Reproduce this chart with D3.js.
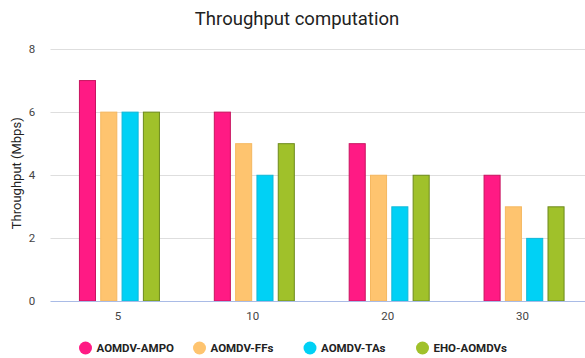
<!DOCTYPE html>
<html>
<head>
<meta charset="utf-8">
<script src="https://cdn.jsdelivr.net/npm/d3@7"></script>
<style>
  html, body { margin: 0; padding: 0; background: #fff; }
  svg { display: block; font-family: Roboto, "Noto Sans", sans-serif; }
</style>
</head>
<body>
<svg id="chart" width="585" height="358"></svg>
<script>
const categories = ["5", "10", "20", "30"];
const seriesNames = ["AOMDV-AMPO", "AOMDV-FFs", "AOMDV-TAs", "EHO-AOMDVs"];
const seriesValues = [
  [7, 6, 5, 4],
  [6, 5, 4, 3],
  [6, 4, 3, 2],
  [6, 5, 4, 3]
];
const yTicks = [0, 2, 4, 6, 8];
const fills = ["#ff1a84", "#fec46f", "#00d1f5", "#a0c12a"];
const strokes = ["#c8145f", "#f5b860", "#10b8d8", "#6d8a1c"];

const svg = d3.select("#chart");
const margin = { left: 50.5, right: -5, top: 48.5, bottom: 57 };
const W = 585, H = 358;

const x = d3.scaleBand().domain(categories).range([margin.left, W - margin.right]);
const y = d3.scaleLinear().domain([0, 8]).range([H - margin.bottom, margin.top]);
const inner = d3.scaleBand().domain(d3.range(seriesNames.length))
  .range([0, 81]).paddingInner(0.2);

// title
svg.append("text")
  .attr("x", 297).attr("y", 25)
  .attr("text-anchor", "middle")
  .attr("font-size", 18.5).attr("fill", "#222")
  .text("Throughput computation");

// gridlines
svg.append("g").selectAll("line").data(yTicks.filter(d => d > 0)).join("line")
  .attr("x1", margin.left).attr("x2", W)
  .attr("y1", d => Math.round(y(d)) + 0.5).attr("y2", d => Math.round(y(d)) + 0.5)
  .attr("stroke", "#dedede").attr("stroke-width", 1.2);

// y tick labels
svg.append("g").selectAll("text").data(yTicks).join("text")
  .attr("x", 32).attr("y", d => y(d) + 4)
  .attr("text-anchor", "middle")
  .attr("font-size", 11.5).attr("fill", "#444")
  .text(d => d);

// y axis title
svg.append("text")
  .attr("transform", `translate(21,${(y(0) + y(8)) / 2 - 1.5}) rotate(-90)`)
  .attr("text-anchor", "middle")
  .attr("font-size", 13).attr("fill", "#222")
  .text("Throughput (Mbps)");

// bars
const groups = svg.append("g").selectAll("g").data(categories).join("g")
  .attr("transform", c => `translate(${x(c) + x.bandwidth() / 2 - 39},0)`);
groups.selectAll("rect").data((c, ci) => seriesValues.map((vals, si) => ({ si, v: vals[ci] })))
  .join("rect")
  .attr("x", d => inner(d.si) + 0.5)
  .attr("y", d => y(d.v) + 0.5)
  .attr("width", inner.bandwidth() - 1)
  .attr("height", d => y(0) - y(d.v) - 0.5)
  .attr("fill", d => fills[d.si])
  .attr("stroke", d => strokes[d.si])
  .attr("stroke-width", 1);

// baseline
svg.append("line")
  .attr("x1", margin.left).attr("x2", W)
  .attr("y1", Math.round(y(0)) + 0.5).attr("y2", Math.round(y(0)) + 0.5)
  .attr("stroke", "#a9bbe6").attr("stroke-width", 1.2);

// x tick labels
svg.append("g").selectAll("text").data(categories).join("text")
  .attr("x", c => x(c) + x.bandwidth() / 2)
  .attr("y", 320)
  .attr("text-anchor", "middle")
  .attr("font-size", 11.5).attr("fill", "#444")
  .text(c => c);

// legend
const legendX = [85.5, 199.5, 310, 422.5];
const leg = svg.append("g").selectAll("g").data(seriesNames).join("g")
  .attr("transform", (d, i) => `translate(${legendX[i]},348)`);
leg.append("circle").attr("r", 6.5).attr("fill", (d, i) => fills[i]);
leg.append("text")
  .attr("x", 11).attr("y", 4)
  .attr("font-size", 11.5).attr("font-weight", "bold").attr("fill", "#222")
  .text(d => d);
</script>
</body>
</html>
